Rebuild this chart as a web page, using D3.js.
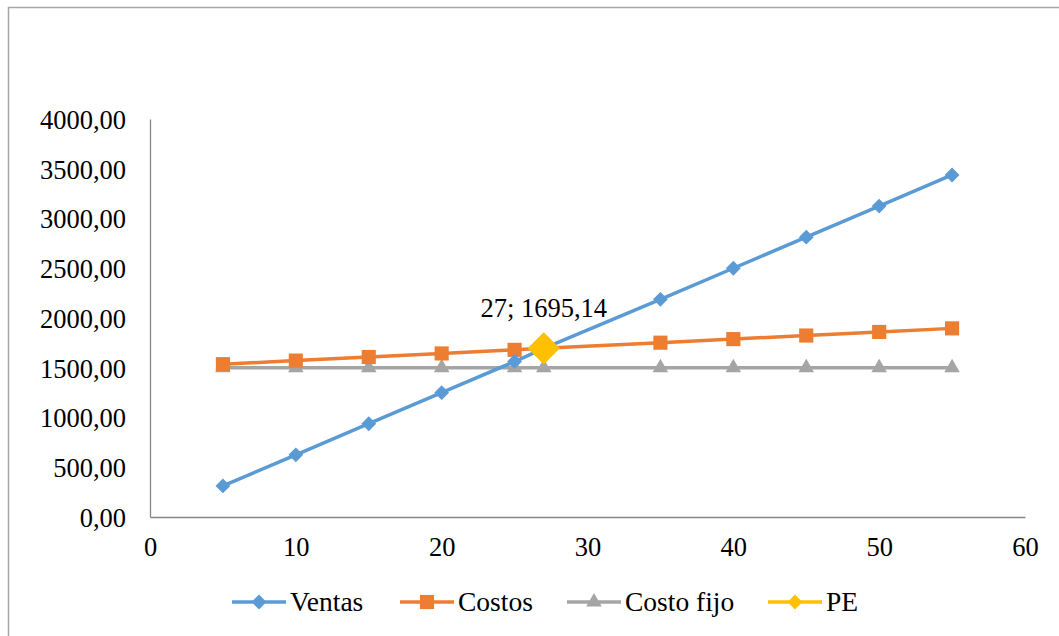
<!DOCTYPE html>
<html>
<head>
<meta charset="utf-8">
<script src="https://cdn.jsdelivr.net/npm/d3@7"></script>
<style>
  html, body { margin: 0; padding: 0; background: #fff; }
  svg { display: block; }
  text { font-family: "Liberation Serif", "Times New Roman", serif; fill: #000; }
</style>
</head>
<body>
<svg id="chart" width="1059" height="636"></svg>
<script>
// Units sold (x) and the three cost / revenue series
const unidades   = [5, 10, 15, 20, 25, 27, 35, 40, 45, 50, 55];
const ventas     = [312.5, 625, 937.5, 1250, 1562.5, 1695.14, 2187.5, 2500, 2812.5, 3125, 3437.5];
const costos     = [1535.97, 1571.95, 1607.92, 1643.89, 1679.87, 1695.14, 1751.82, 1787.79, 1823.76, 1859.74, 1895.71];
const costoFijo  = [1500, 1500, 1500, 1500, 1500, 1500, 1500, 1500, 1500, 1500, 1500];
// Break-even point
const peX = [27];
const peY = [1695.14];

const xTicks = [0, 10, 20, 30, 40, 50, 60];
const yTicks = [0, 500, 1000, 1500, 2000, 2500, 3000, 3500, 4000];
const legendNames = ["Ventas", "Costos", "Costo fijo", "PE"];

const colors = { ventas: "#5B9BD5", costos: "#ED7D31", fijo: "#A5A5A5", pe: "#FFC000" };

const svg = d3.select("#chart");

// outer frame
svg.append("rect")
  .attr("x", 8.5).attr("y", 7.5)
  .attr("width", 1100).attr("height", 700)
  .attr("fill", "none").attr("stroke", "#a6a6a6").attr("stroke-width", 1.5);

const x = d3.scaleLinear().domain([0, 60]).range([150, 1025]);
const y = d3.scaleLinear().domain([0, 4000]).range([517, 119]);

const fmtY = v => d3.format(".2f")(v).replace(".", ",");

// axes
const yAxis = svg.append("g").attr("transform", `translate(${x(0)},0)`)
  .call(d3.axisLeft(y).tickValues(yTicks).tickSize(0).tickPadding(24).tickFormat(fmtY));
const xAxis = svg.append("g").attr("transform", `translate(0,${y(0)})`)
  .call(d3.axisBottom(x).tickValues(xTicks).tickSize(0).tickPadding(20).tickFormat(d3.format("d")));
[xAxis, yAxis].forEach(a => {
  a.select(".domain").attr("stroke", "#868686").attr("stroke-width", 1.3);
  a.selectAll("text").attr("font-size", 26.5).attr("font-family", "Liberation Serif, serif").attr("fill", "#000");
});
yAxis.selectAll("text").attr("dy", "0.35em");

const line = d3.line().x(d => x(d[0])).y(d => y(d[1]));

const symVentas = d3.symbol().type(d3.symbolSquare).size(110);
const symCostos = d3.symbol().type(d3.symbolSquare).size(200);
const symFijo   = d3.symbol().type(d3.symbolTriangle).size(105);

const series = [
  { vals: ventas, color: colors.ventas, sym: symVentas, rot: 45 },
  { vals: costos, color: colors.costos, sym: symCostos, rot: 0 },
  { vals: costoFijo, color: colors.fijo, sym: symFijo, rot: 0 }
];

// draw from back to front: Costo fijo, Costos, Ventas
[series[2], series[1], series[0]].forEach(s => {
  const pts = unidades.map((u, i) => [u, s.vals[i]]);
  svg.append("path").datum(pts)
    .attr("d", line).attr("fill", "none")
    .attr("stroke", s.color).attr("stroke-width", 3.5).attr("stroke-linejoin", "round");
  svg.append("g").selectAll("path").data(pts).join("path")
    .attr("d", s.sym())
    .attr("transform", d => `translate(${x(d[0])},${y(d[1])}) rotate(${s.rot})`)
    .attr("fill", s.color);
});

// break-even point marker and its label
const pePts = peX.map((v, i) => [v, peY[i]]);
svg.append("g").selectAll("path").data(pePts).join("path")
  .attr("d", d3.symbol().type(d3.symbolSquare).size(520)())
  .attr("transform", d => `translate(${x(d[0])},${y(d[1])}) rotate(45)`)
  .attr("fill", colors.pe);
svg.append("g").selectAll("text").data(pePts).join("text")
  .attr("x", d => x(d[0]))
  .attr("y", d => y(d[1]) - 31)
  .attr("text-anchor", "middle")
  .attr("font-size", 26.5)
  .text(d => `${d3.format("d")(d[0])}; ${fmtY(d[1])}`);

// legend
const legendItems = [
  { name: legendNames[0], color: colors.ventas, sym: symVentas, rot: 45, x0: 232 },
  { name: legendNames[1], color: colors.costos, sym: symCostos, rot: 0, x0: 400 },
  { name: legendNames[2], color: colors.fijo, sym: symFijo, rot: 0, x0: 567 },
  { name: legendNames[3], color: colors.pe, sym: symVentas, rot: 45, x0: 768 }
];
const ly = 602;
const lg = svg.append("g").selectAll("g").data(legendItems).join("g")
  .attr("transform", d => `translate(${d.x0},${ly})`);
lg.append("line").attr("x1", 0).attr("x2", 54).attr("y1", 0).attr("y2", 0)
  .attr("stroke", d => d.color).attr("stroke-width", 3.5);
lg.append("path").attr("d", d => d.sym())
  .attr("transform", d => `translate(27,0) rotate(${d.rot})`)
  .attr("fill", d => d.color);
lg.append("text").attr("x", 58).attr("y", 0).attr("dy", "0.33em")
  .attr("font-size", 27.5).text(d => d.name);
</script>
</body>
</html>
